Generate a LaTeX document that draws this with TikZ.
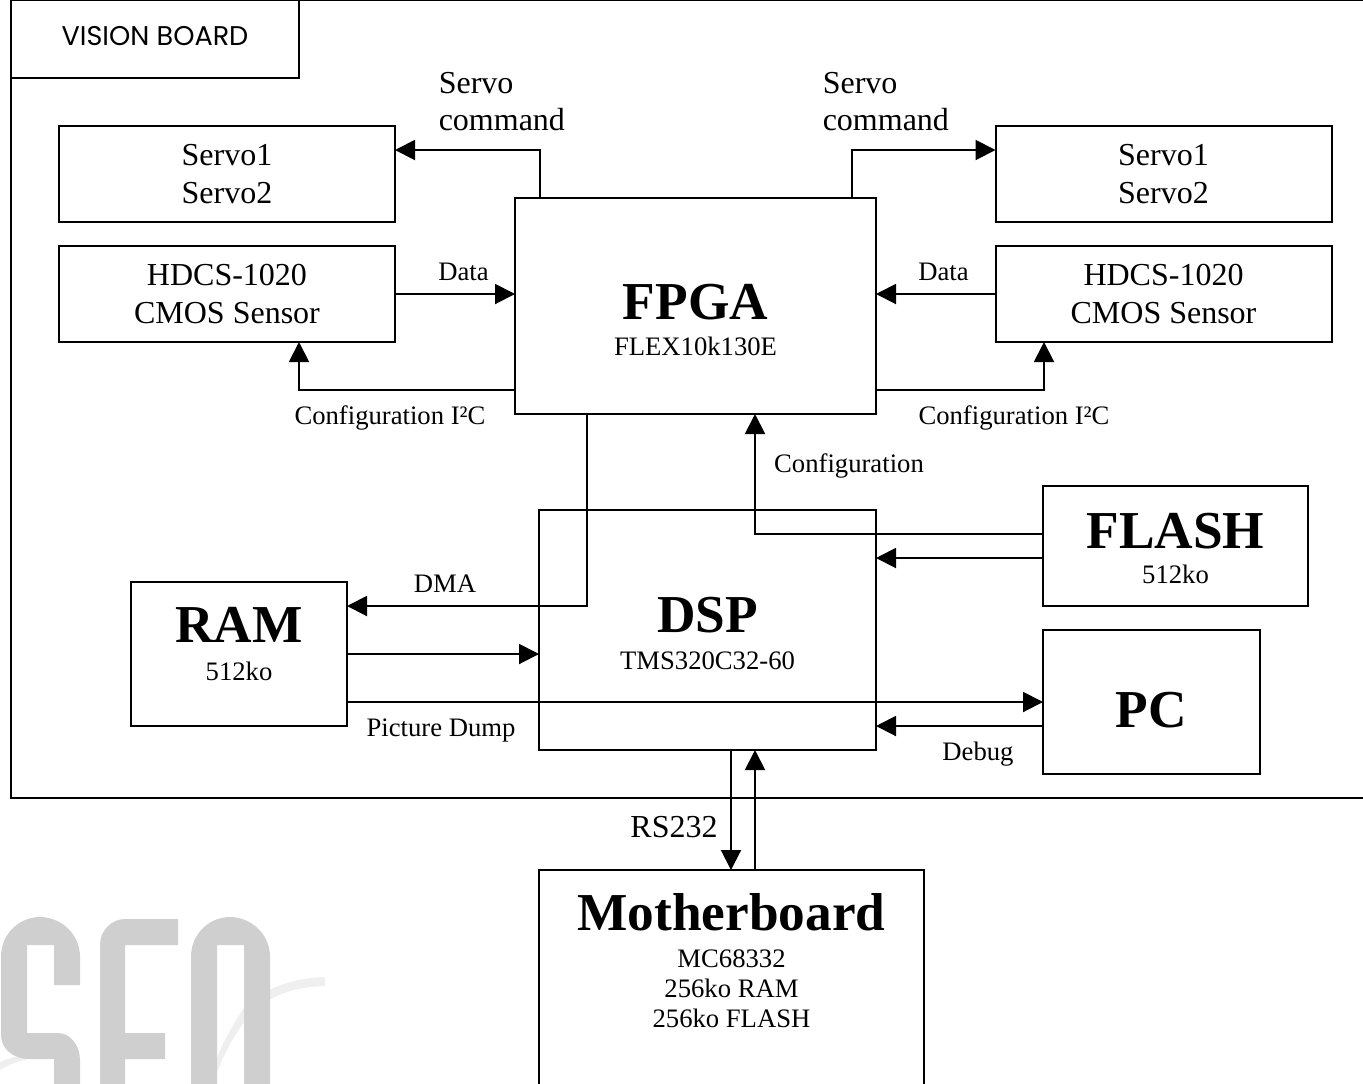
\documentclass[tikz,border=0pt]{standalone}
\usepackage{fontspec}
\setmainfont{Liberation Serif}
\newfontfamily\boardfont{Poppins}
\usetikzlibrary{positioning,arrows.meta,calc}
\definecolor{LogoGrey}{HTML}{CFCFCF}
\definecolor{SwooshGrey}{HTML}{EFEFEF}
\newcommand{\bigname}{\fontsize{40}{44}\selectfont\bfseries}
\newcommand{\smallname}{\fontsize{20}{22.5}\selectfont}
\tikzset{
  boardbox/.style={draw,line width=1.5pt,outer sep=0pt,inner sep=0pt,align=center,font=\fontsize{24}{28}\selectfont},
  flow/.style={-{Triangle[length=15pt,width=15pt]},line width=1.5pt},
  tag/.style={inner sep=0pt,align=center,font=\smallname},
  bigtag/.style={inner sep=0pt,align=left,font=\fontsize{24}{28}\selectfont},
}

\begin{document}
\begin{tikzpicture}[x=0.75pt,y=-0.75pt]
  \clip (0,0) rectangle (1363,1083);
  \fill[SwooshGrey] (325,977) .. controls (290,978) and (262,990) .. (244,1008) .. controls (232,1025) and (222,1045) .. (217,1058) -- (217,1072) .. controls (226,1050) and (236,1032) .. (246,1020) .. controls (266,996) and (292,987) .. (325,986) -- cycle;
  \fill[SwooshGrey] (0,1062) .. controls (8,1058) and (18,1056) .. (28,1054) -- (28,1059) .. controls (18,1061) and (8,1065) .. (0,1070) -- cycle;
  \fill[LogoGrey] (54,985) -- (54,945) -- (27,945) -- (27,1033) -- (58,1033) .. controls (70,1033) and (80,1045) .. (80,1060) -- (80,1090) -- (54,1090) -- (54,1059) -- (30,1059) .. controls (12,1059) and (1,1048) .. (1,1035) -- (1,957) .. controls (1,933) and (20,917) .. (40,917) .. controls (60,917) and (80,933) .. (80,957) -- (80,985) -- cycle;
  \fill[LogoGrey] (100,1090) -- (100,945) .. controls (100,930) and (112,919) .. (125,919) -- (178,919) -- (178,945) -- (125,945) -- (125,1033) -- (165,1033) -- (165,1059) -- (125,1059) -- (125,1090) -- cycle;
  \fill[LogoGrey] (191,1090) -- (191,957) .. controls (191,933) and (210,917) .. (230,917) .. controls (250,917) and (270,933) .. (270,957) -- (270,1090) -- (244,1090) -- (244,945) -- (217,945) -- (217,1090) -- cycle;

  \node[boardbox,minimum width=1025pt,minimum height=598.5pt] (board) at (694.5,399) {};
  \node[boardbox,minimum width=216pt,minimum height=58.5pt,font=\boardfont\fontsize{20.3}{24}\selectfont] (boardname) at (155,39) {\raisebox{4.5pt}{VISION BOARD}};

  \node[boardbox,minimum width=252pt,minimum height=72pt] (servoL) at (227,174) {Servo1\\Servo2};
  \node[boardbox,minimum width=252pt,minimum height=72pt,below=18pt of servoL] (hdcsL) {HDCS-1020\\CMOS Sensor};
  \node[boardbox,minimum width=252pt,minimum height=72pt] (servoR) at (1163.5,174) {Servo1\\Servo2};
  \node[boardbox,minimum width=252pt,minimum height=72pt,below=18pt of servoR] (hdcsR) {HDCS-1020\\CMOS Sensor};
  \node[boardbox,minimum width=270.75pt,minimum height=162pt] (fpga) at (695.5,306) {};
  \node[boardbox,minimum width=252.75pt,minimum height=180pt] (dsp) at (707.5,630) {};
  \node[boardbox,minimum width=162pt,minimum height=108pt] (ram) at (239,654) {};
  \node[boardbox,minimum width=198.75pt,minimum height=90pt] (flash) at (1175.5,546) {};
  \node[boardbox,minimum width=162.75pt,minimum height=108pt] (pc) at (1151.5,702) {};
  \node[boardbox,minimum width=288.75pt,minimum height=168.75pt] (mother) at (731.5,982.5) {};

  \node[tag] (fpgatext) at (695.5,320) {\bigname FPGA\\[4.5pt]\smallname FLEX10k130E};
  \node[tag] (dsptext) at (707.5,633.5) {\bigname DSP\\[5pt]\smallname TMS320C32-60};
  \node[tag] (ramtext) at (239,644) {\bigname RAM\\[6pt]\smallname 512ko};
  \node[tag] (flashtext) at (1175.5,548.5) {\bigname FLASH\\[4pt]\smallname 512ko};
  \node[tag,font=\bigname] (pctext) at (1151.5,710) {PC};
  \node[tag] (mothertext) at (731.5,960.5) {\bigname Motherboard\\[5.5pt]\smallname MC68332\\256ko RAM\\256ko FLASH};

  \draw[flow] ($(fpga.north west)+(25,0)$) |- ($(servoL.east)+(0,-24)$);
  \draw[flow] ($(fpga.north east)+(-24,0)$) |- ($(servoR.west)+(0,-24)$);
  \draw[flow] (hdcsL.east) -- (hdcsL.east -| fpga.west);
  \draw[flow] (hdcsR.west) -- (hdcsR.west -| fpga.east);
  \draw[flow] ($(fpga.south west)+(0,-24)$) -| ($(hdcsL.south)+(72,0)$);
  \draw[flow] ($(fpga.south east)+(0,-24)$) -| ($(hdcsR.south)+(-119.5,0)$);
  \draw[flow] ($(fpga.south west)+(72,0)$) |- ($(ram.north east)+(0,24)$);
  \draw[flow] (ram.east) -- (ram.east -| dsp.west);
  \draw[flow] ($(ram.east)+(0,48)$) -- (pc.west);
  \draw[flow] ($(flash.west)+(0,-12)$) -| ($(fpga.south)+(59.5,0)$);
  \draw[flow] ($(flash.west)+(0,12)$) -- ($(dsp.east)+(0,-72)$);
  \draw[flow] ($(pc.west)+(0,24)$) -- ($(dsp.east)+(0,96)$);
  \draw[flow] ($(dsp.south)+(23.5,0)$) -- ($(mother.north west)+(192,0)$);
  \draw[flow] ($(mother.north west)+(216,0)$) -- ($(dsp.south)+(47.5,0)$);

  \node[bigtag,anchor=west] (servotagL) at (438.5,101.5) {Servo\\command};
  \node[bigtag,anchor=west] (servotagR) at (822.5,101.5) {Servo\\command};
  \node[tag] (dataL) at (463.5,272) {Data};
  \node[tag] (dataR) at (943.5,272) {Data};
  \node[tag] (configL) at (390,418) {Configuration I²C};
  \node[tag] (configR) at (1014,418) {Configuration I²C};
  \node[tag] (configtag) at (849,466) {Configuration};
  \node[tag] (dmatag) at (445,584) {DMA};
  \node[tag] (dumptag) at (441,730) {Picture Dump};
  \node[tag] (debugtag) at (978,754) {Debug};
  \node[bigtag] (rstag) at (674,827.5) {RS232};
\end{tikzpicture}
\end{document}
